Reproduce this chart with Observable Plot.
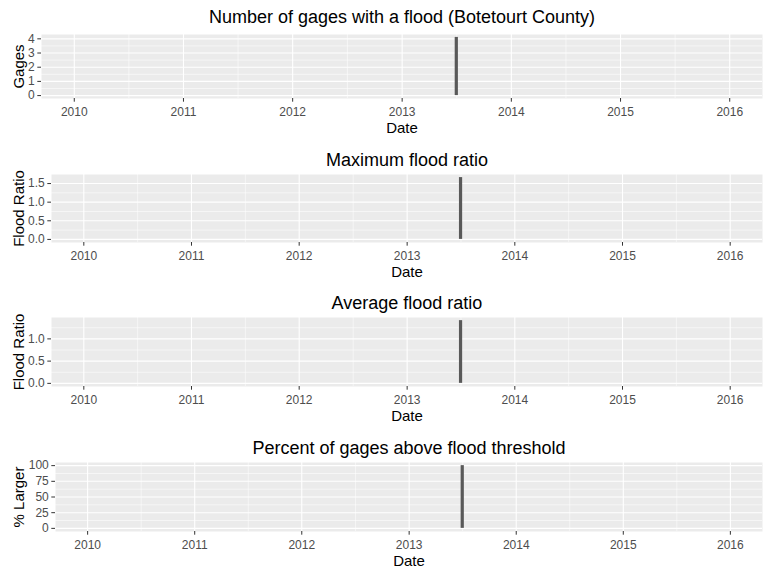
<!DOCTYPE html>
<html>
<head>
<meta charset="utf-8">
<script src="https://cdn.jsdelivr.net/npm/d3@7"></script>
<script src="https://cdn.jsdelivr.net/npm/@observablehq/plot@0.6"></script>
<style>
  html, body { margin: 0; padding: 0; background: white; }
  #chart { width: 768px; height: 576px; }
  #chart svg { display: block; }
</style>
</head>
<body>
<div id="chart"></div>
<script>
// ---- data ----
const eventDates = ["2013-07-01"];
const gagesCount = [4.1];
const maxFloodRatio = [1.66];
const avgFloodRatio = [1.41];
const pctLarger = [100];
const dateRange = ["2010-01-01", "2016-01-01"];
const yearTicks = ["2010", "2011", "2012", "2013", "2014", "2015", "2016"];

const titles = [
  "Number of gages with a flood (Botetourt County)",
  "Maximum flood ratio",
  "Average flood ratio",
  "Percent of gages above flood threshold"
];
const yLabels = ["Gages", "Flood Ratio", "Flood Ratio", "% Larger"];
const yMajorTicks = [
  [0, 1, 2, 3, 4],
  [0, 0.5, 1.0, 1.5],
  [0, 0.5, 1.0],
  [0, 25, 50, 75, 100]
];
const yMinorTicks = [
  [0.5, 1.5, 2.5, 3.5],
  [0.25, 0.75, 1.25],
  [0.25, 0.75, 1.25],
  [12.5, 37.5, 62.5, 87.5]
];
const yTickFormats = [d3.format("d"), d3.format(".1f"), d3.format(".1f"), d3.format("d")];
const seriesValues = [gagesCount, maxFloodRatio, avgFloodRatio, pctLarger];

// ---- layout ----
const layouts = [
  {marginTop: 34, marginBottom: 46, marginLeft: 41, titleDy: -17, dateDy: 29.7},
  {marginTop: 30, marginBottom: 46, marginLeft: 51, titleDy: -14.3, dateDy: 29.7},
  {marginTop: 29, marginBottom: 46, marginLeft: 51, titleDy: -14, dateDy: 29.7},
  {marginTop: 30, marginBottom: 45, marginLeft: 55, titleDy: -14.4, dateDy: 29.3}
];

const parse = d3.utcParse("%Y-%m-%d");
const d0 = parse(dateRange[0]), d1 = parse(dateRange[1]);
const span = d1 - d0;
const xDomain = [new Date(+d0 - 0.05 * span), new Date(+d1 + 0.05 * span)];
const xMajor = yearTicks.map(y => parse(y + "-01-01"));
const xMinor = d3.pairs(xMajor).map(([a, b]) => new Date((+a + +b) / 2));
const yearFmt = d3.utcFormat("%Y");

const font = "'Liberation Sans', Arial, sans-serif";
const tickColor = "#4D4D4D";
const chart = document.getElementById("chart");

titles.forEach((title, i) => {
  const L = layouts[i];
  const vals = seriesValues[i];
  const data = eventDates.map((d, j) => ({date: parse(d), value: vals[j]}));
  const ymax = d3.max(vals);
  const yDomain = [-0.05 * ymax, 1.05 * ymax];
  const plot = Plot.plot({
    width: 768,
    height: 144,
    marginTop: L.marginTop,
    marginBottom: L.marginBottom,
    marginLeft: L.marginLeft,
    marginRight: 6,
    style: {fontFamily: font, fontSize: "12px", background: "white", overflow: "visible"},
    x: {type: "utc", domain: xDomain},
    y: {domain: yDomain},
    marks: [
      Plot.frame({fill: "#EBEBEB", stroke: "none"}),
      Plot.ruleY(yMinorTicks[i], {stroke: "white", strokeWidth: 0.55}),
      Plot.ruleY(yMajorTicks[i], {stroke: "white", strokeWidth: 1.1}),
      Plot.ruleX(xMinor, {stroke: "white", strokeWidth: 0.55}),
      Plot.ruleX(xMajor, {stroke: "white", strokeWidth: 1.1}),
      Plot.ruleX(data, {x: "date", y1: 0, y2: "value", stroke: "#595959", strokeWidth: 3.2}),
      // tick marks (labels drawn separately for font control)
      Plot.axisX(xMajor, {tickFormat: () => "", tickSize: 3.7, stroke: "#333333", label: null}),
      Plot.axisY(yMajorTicks[i], {tickFormat: () => "", tickSize: 3.7, stroke: "#333333", label: null}),
      Plot.text(xMajor, {x: d => d, frameAnchor: "bottom", dy: 14, lineAnchor: "middle",
        textAnchor: "middle", text: yearFmt, fontSize: 12, fill: tickColor}),
      Plot.text(yMajorTicks[i], {y: d => d, frameAnchor: "left", dx: -6.7, lineAnchor: "middle",
        textAnchor: "end", text: yTickFormats[i], fontSize: 12, fill: tickColor}),
      Plot.text([title], {frameAnchor: "top", dy: L.titleDy, lineAnchor: "middle", textAnchor: "middle",
        fontSize: 18, fill: "black", text: d => d}),
      Plot.text([yLabels[i]], {frameAnchor: "left", dx: -(L.marginLeft - 18.3), rotate: -90,
        lineAnchor: "middle", textAnchor: "middle", fontSize: 15, fill: "black", text: d => d}),
      Plot.text(["Date"], {frameAnchor: "bottom", dy: L.dateDy, lineAnchor: "middle", textAnchor: "middle",
        fontSize: 15, fill: "black", text: d => d})
    ]
  });
  chart.appendChild(plot);
});
</script>
</body>
</html>
